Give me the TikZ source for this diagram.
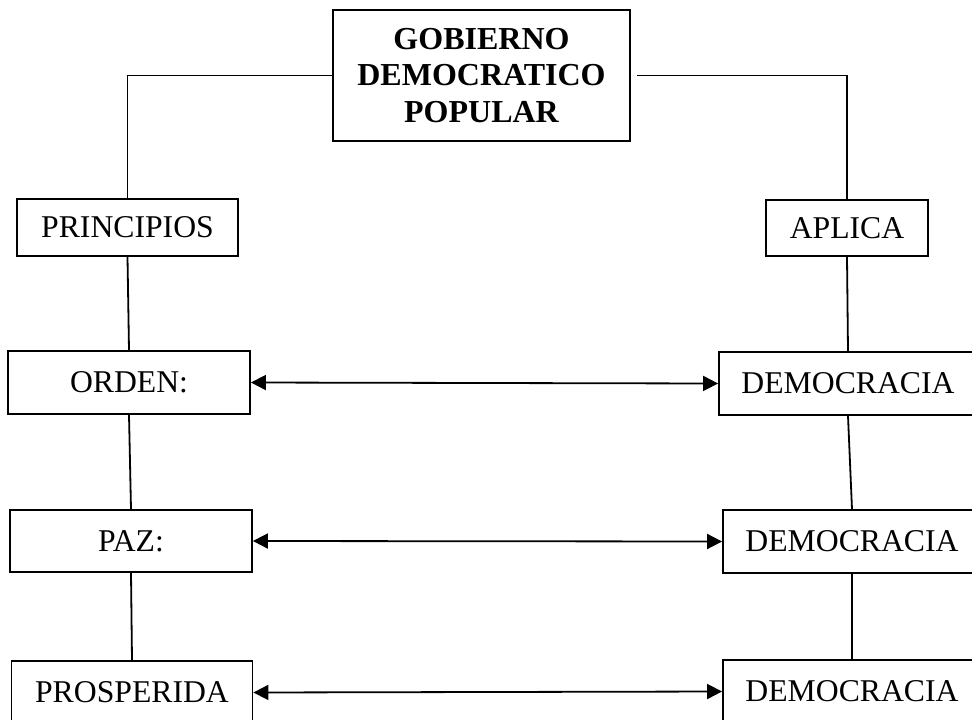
\documentclass[tikz,border=0pt]{standalone}
\usepackage{fontspec}
\setmainfont{Liberation Serif}
\usetikzlibrary{arrows.meta}
\tikzset{
  boxnode/.style={draw, line width=1.8pt, inner sep=0pt, align=center,
    font=\fontsize{31.7}{36.5}\selectfont},
  conn/.style={line width=1.8pt},
  biarrow/.style={line width=1.8pt, {Triangle[length=15pt,width=15pt]}-{Triangle[length=15pt,width=15pt]}}
}
\begin{document}
\begin{tikzpicture}[x=1pt,y=-1pt]
\useasboundingbox (0,0) rectangle (972,720);
\node[boxnode, minimum width=297pt, minimum height=131pt, font=\bfseries\fontsize{32}{36.5}\selectfont] (top) at (481.5,75.5) {GOBIERNO\\DEMOCRATICO\\POPULAR};
\node[boxnode, minimum width=221pt, minimum height=57pt] (princ) at (127.5,227.5) {PRINCIPIOS};
\node[boxnode, minimum width=162pt, minimum height=56pt] (aplica) at (847,228) {APLICA};
\node[boxnode, minimum width=242pt, minimum height=63pt] (orden) at (129,382.5) {ORDEN:};
\node[boxnode, minimum width=258pt, minimum height=63pt] (dem1) at (848,383.5) {DEMOCRACIA};
\node[boxnode, minimum width=242pt, minimum height=62pt] (paz) at (131,541) {PAZ:};
\node[boxnode, minimum width=258pt, minimum height=63pt] (dem2) at (852,541.5) {DEMOCRACIA};
\node[boxnode, minimum width=241pt, minimum height=63pt] (prosp) at (132,692.5) {PROSPERIDA};
\node[boxnode, minimum width=258pt, minimum height=63pt] (dem3) at (852,691.5) {DEMOCRACIA};

\draw[conn] (top.west) -| (princ.north);
\draw[conn, shorten <=6pt] (top.east) -| (aplica.north);
\draw[conn] (princ.south) -- (orden.north);
\draw[conn] (orden.south) -- (paz.north);
\draw[conn] (paz.south) -- (prosp.north);
\draw[conn] (aplica.south) -- (dem1.north);
\draw[conn] (dem1.south) -- (dem2.north);
\draw[conn] (dem2.south) -- (dem3.north);

\draw[biarrow] (orden.east) -- (dem1.west);
\draw[biarrow] (paz.east) -- (dem2.west);
\draw[biarrow] (prosp.east) -- (dem3.west);
\end{tikzpicture}
\end{document}
